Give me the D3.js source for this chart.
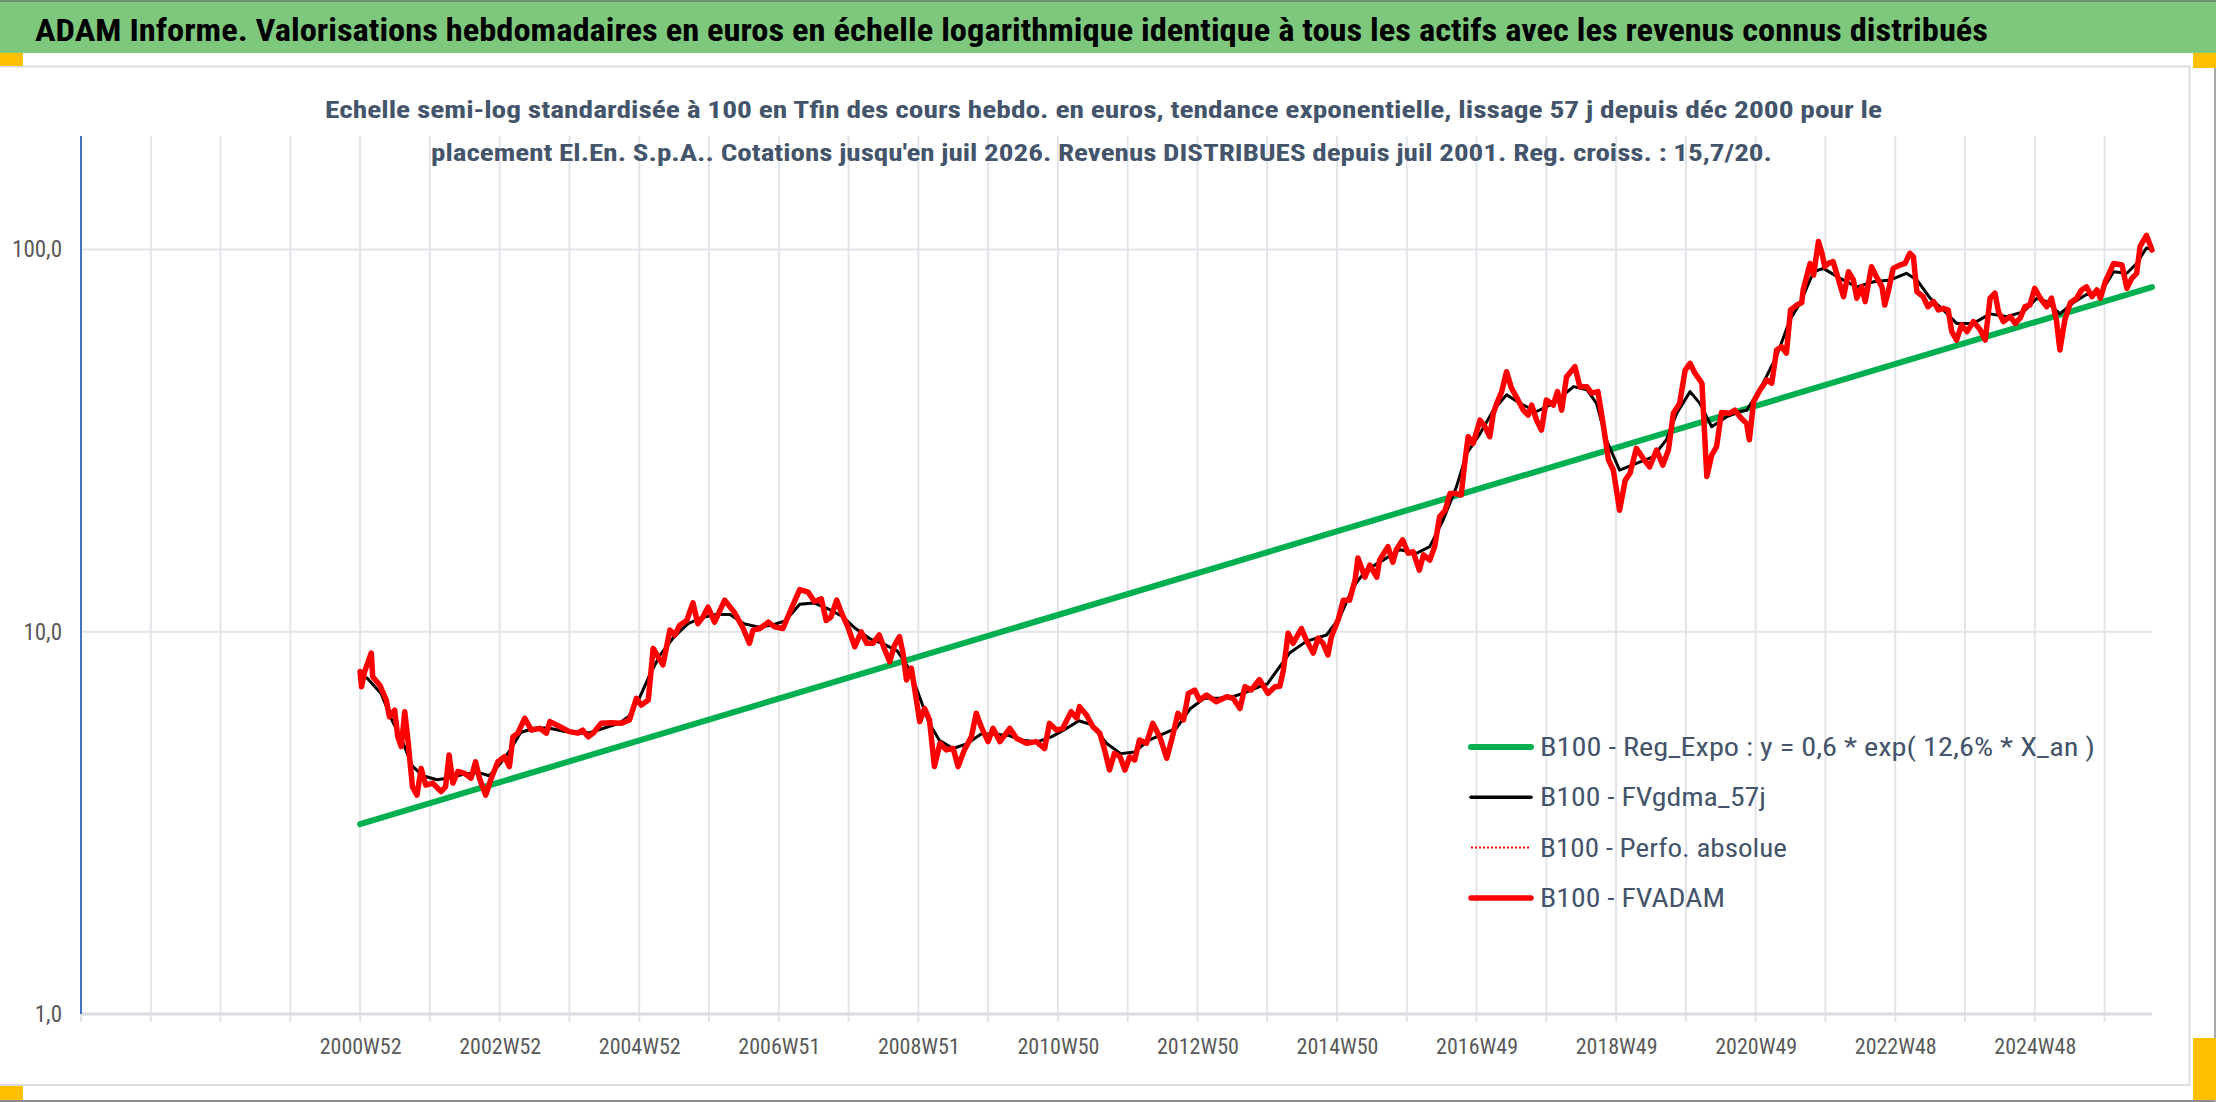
<!DOCTYPE html>
<html><head><meta charset="utf-8">
<script src="https://cdn.jsdelivr.net/npm/d3@7"></script>
<style>
html,body{margin:0;padding:0;background:#fff;overflow:hidden;}
svg{display:block;}
</style></head>
<body>
<svg id="chart" width="2216" height="1102"></svg>
<script>
// ---------- DATA ----------
const titleText = "ADAM Informe. Valorisations hebdomadaires en euros en échelle logarithmique identique à tous les actifs avec les revenus connus distribués";
const subtitle1 = "Echelle semi-log standardisée à 100 en Tfin des cours hebdo. en euros, tendance exponentielle, lissage 57 j depuis déc 2000 pour le";
const subtitle2 = "placement El.En. S.p.A.. Cotations jusqu'en juil 2026. Revenus DISTRIBUES depuis juil 2001. Reg. croiss. : 15,7/20.";

// category axis: years (52-week steps) relative to 2000W52
const xLabelPos = [0, 2, 4, 6, 8, 10, 12, 14, 16, 18, 20, 22, 24];
const xLabels = ["2000W52", "2002W52", "2004W52", "2006W51", "2008W51", "2010W50", "2012W50",
                 "2014W50", "2016W49", "2018W49", "2020W49", "2022W48", "2024W48"];
const xGrid = [-3,-2,-1,0,1,2,3,4,5,6,7,8,9,10,11,12,13,14,15,16,17,18,19,20,21,22,23,24,25];
const yTicks = [1, 10, 100];

const seriesNames = [
  "B100 - Reg_Expo : y = 0,6 * exp( 12,6% *  X_an )",
  "B100 - FVgdma_57j",
  "B100 - Perfo. absolue",
  "B100 - FVADAM"
];

// B100 - FVADAM (red)
const redT = [0.00,0.02,0.065,0.16,0.18,0.28,0.375,0.42,0.495,0.54,0.59,0.64,0.685,0.75,0.815,0.875,0.94,1.04,1.16,1.225,1.275,1.33,1.40,1.50,1.59,1.655,1.71,1.80,1.88,1.975,
  2.07,2.14,2.19,2.26,2.36,2.455,2.575,2.67,2.72,2.86,3.00,3.12,3.19,3.27,3.34,3.455,3.60,3.74,3.86,3.96,4.03,4.13,4.20,4.27,4.34,4.44,4.51,4.58,4.68,4.77,
  4.84,4.915,4.985,5.08,5.225,5.37,5.49,5.58,5.63,5.73,5.85,5.94,6.06,6.18,6.30,6.42,6.51,6.61,6.68,6.75,6.83,6.90,6.99,7.09,7.18,7.26,7.35,7.44,7.52,7.59,
  7.66,7.73,7.78,7.83,7.90,7.95,8.02,8.09,8.16,8.23,8.31,8.40,8.50,8.57,8.66,8.76,8.83,8.90,9.00,9.07,9.17,9.31,9.41,9.55,9.69,9.81,9.88,9.98,10.07,10.19,
  10.27,10.31,10.41,10.50,10.60,10.67,10.74,10.81,10.89,10.96,11.03,11.10,11.17,11.27,11.36,11.46,11.56,11.63,11.72,11.80,11.87,11.96,12.03,12.13,12.27,12.42,12.51,12.61,12.68,12.77,
  12.89,13.01,13.11,13.18,13.23,13.30,13.37,13.49,13.56,13.66,13.73,13.80,13.87,13.92,14.02,14.09,14.18,14.26,14.30,14.40,14.47,14.57,14.61,14.73,14.80,14.85,14.94,15.02,15.09,15.18,
  15.24,15.33,15.40,15.47,15.55,15.62,15.71,15.78,15.83,15.88,15.95,16.05,16.12,16.19,16.24,16.29,16.36,16.43,16.50,16.57,16.67,16.74,16.79,16.86,16.93,17.00,17.10,17.16,17.22,17.29,
  17.41,17.48,17.58,17.65,17.74,17.82,17.89,17.96,18.05,18.13,18.20,18.29,18.39,18.48,18.58,18.67,18.75,18.82,18.91,18.99,19.06,19.13,19.23,19.30,19.37,19.44,19.51,19.63,19.70,19.80,
  19.87,19.91,19.97,20.06,20.16,20.23,20.30,20.37,20.44,20.50,20.59,20.66,20.68,20.78,20.83,20.90,20.95,20.99,21.04,21.11,21.16,21.26,21.33,21.40,21.45,21.52,21.57,21.66,21.73,21.81,
  21.85,21.90,21.97,22.07,22.14,22.21,22.26,22.31,22.40,22.47,22.55,22.62,22.69,22.76,22.81,22.88,22.95,23.03,23.12,23.22,23.29,23.36,23.43,23.48,23.55,23.65,23.72,23.79,23.86,23.93,
  24.00,24.08,24.17,24.24,24.31,24.36,24.43,24.51,24.60,24.67,24.74,24.82,24.89,24.94,25.01,25.13,25.25,25.32,25.39,25.46,25.51,25.60,25.68];
const redV = [7.87,7.18,7.87,8.80,7.63,7.26,6.63,5.99,6.24,5.31,5.01,6.18,5.21,3.93,3.74,4.39,3.97,4.02,3.82,3.93,4.76,4.02,4.31,4.26,4.14,4.57,4.14,3.74,4.14,4.57,
  4.71,4.44,5.31,5.43,5.94,5.53,5.59,5.43,5.82,5.65,5.48,5.43,5.53,5.31,5.43,5.76,5.78,5.76,5.88,6.70,6.43,6.63,9.05,8.61,8.19,10.1,9.81,10.4,10.7,11.9,
  10.5,10.95,11.6,10.6,12.1,11.2,10.2,9.33,10.1,10.2,10.6,10.3,10.2,11.5,12.9,12.7,12.0,12.2,10.7,10.95,12.1,11.2,10.3,9.14,10.0,9.33,9.33,9.81,8.96,8.35,
  9.23,9.71,8.80,7.48,8.03,7.04,5.82,6.30,5.88,4.44,5.11,4.91,4.95,4.44,4.91,5.31,6.12,5.65,5.16,5.59,5.16,5.59,5.26,5.11,5.16,4.95,5.76,5.53,5.59,6.18,
  5.94,6.37,6.06,5.65,5.43,4.91,4.35,4.81,4.71,4.35,4.71,4.62,5.21,5.11,5.76,5.31,4.67,5.21,6.12,5.88,6.90,7.04,6.63,6.83,6.56,6.76,6.70,6.30,7.18,7.04,
  7.50,6.90,7.18,7.20,7.90,9.91,9.33,10.2,9.52,8.80,9.63,9.33,8.70,9.71,10.8,12.1,12.1,13.7,15.6,13.9,14.95,13.9,15.4,16.7,15.2,16.4,17.4,16.05,16.2,14.5,
  15.9,15.4,16.7,20.0,20.8,23.0,23.0,22.8,27.6,32.4,31.1,35.8,34.4,32.4,37.3,39.6,42.5,47.9,43.4,41.2,38.0,36.9,39.2,35.8,33.7,40.4,39.2,42.5,38.0,46.5,
  49.4,43.8,43.8,42.1,42.5,34.4,28.2,26.5,20.8,24.9,26.0,30.2,28.4,27.0,29.9,27.3,29.9,37.3,39.6,48.4,50.4,47.5,44.7,25.5,29.0,30.5,37.5,37.3,38.0,36.1,
  35.1,31.8,40.0,42.9,45.6,44.7,54.6,55.7,53.6,69.5,71.6,72.6,78.4,92.0,85.8,105,97.8,90.2,92.0,93.0,86.7,75.3,87.5,83.3,74.6,79.9,73.1,90.2,85.0,79.9,
  71.6,77.6,89.3,91.1,92.0,97.8,95.8,77.6,75.3,70.9,73.1,69.5,70.2,69.5,61.0,58.0,63.5,61.0,64.8,61.6,58.0,74.6,76.9,68.8,64.8,66.8,64.1,66.2,70.9,71.6,
  79.2,74.6,70.9,74.6,65.4,54.6,65.4,72.6,74.6,78.4,79.9,75.3,78.4,74.6,82.4,92.0,91.1,79.2,84.1,86.7,102,109,99.8];

// B100 - FVgdma_57j (black, smoothed)
const blackT = [0.09,0.3,0.45,0.6,0.75,0.9,1.1,1.3,1.5,1.7,1.85,2.0,2.15,2.3,2.5,2.7,2.9,3.1,3.3,3.5,3.7,3.85,4.0,4.15,4.3,4.5,4.7,4.9,5.1,5.3,
  5.5,5.7,5.9,6.1,6.3,6.5,6.7,6.9,7.1,7.3,7.5,7.7,7.85,8.0,8.15,8.3,8.5,8.7,8.9,9.1,9.3,9.5,9.7,9.9,10.1,10.3,10.5,10.7,10.9,11.1,
  11.3,11.5,11.7,11.9,12.1,12.3,12.5,12.7,12.9,13.0,13.32,13.56,13.85,14.04,14.23,14.42,14.66,14.9,15.14,15.33,15.52,15.71,15.86,16.05,16.24,16.43,16.62,16.86,17.1,17.39,
  17.58,17.72,17.86,18.05,18.29,18.53,18.72,18.87,19.06,19.2,19.37,19.58,19.77,19.87,20.06,20.3,20.49,20.64,20.83,20.97,21.21,21.45,21.69,21.93,22.16,22.31,22.5,22.69,22.88,23.12,
  23.36,23.6,23.84,24.03,24.17,24.36,24.55,24.74,24.94,25.13,25.32,25.46,25.6,25.68];
const blackV = [7.6,6.9,5.9,5.2,4.45,4.2,4.1,4.15,4.25,4.28,4.2,4.5,4.9,5.45,5.6,5.6,5.5,5.42,5.45,5.6,5.75,6.0,6.7,7.7,8.7,9.7,10.5,10.9,11.1,11.1,
  10.5,10.3,10.4,10.7,11.8,11.9,11.5,11.0,10.2,9.6,9.3,8.9,8.1,6.9,5.8,5.2,4.95,5.1,5.4,5.4,5.35,5.2,5.15,5.3,5.55,5.85,5.7,5.1,4.8,4.85,
  5.2,5.4,5.6,6.3,6.7,6.7,6.75,6.95,7.2,7.3,8.8,9.44,9.81,10.9,13.1,14.5,15.4,16.4,16.05,16.7,19.6,23.9,29.3,33.0,38.0,41.7,39.6,37.7,39.6,43.8,
  43.0,39.6,31.8,26.5,27.6,28.7,31.8,37.3,42.5,39.6,34.4,36.5,37.7,38.0,43.0,52.6,65.4,72.6,87.5,89.3,84.1,79.9,82.4,83.3,86.7,83.3,74.6,69.5,64.1,64.1,
  67.9,66.8,68.8,74.6,73.1,67.9,72.6,76.3,76.9,87.5,86.7,92.0,101,100];

// B100 - Reg_Expo (green trend, endpoints)
const greenT = [0, 25.68];
const greenV = [3.14, 79.8];

// ---------- DRAWING ----------
const FONT = "'Liberation Sans Narrow','Roboto Condensed','Open Sans Condensed','Roboto',sans-serif";
const svg = d3.select("#chart");

// title band
svg.append("rect").attr("x",0).attr("y",0).attr("width",2216).attr("height",53).attr("fill","#7DC87D");
svg.append("rect").attr("x",0).attr("y",0).attr("width",2216).attr("height",2).attr("fill","#6E8E6E");
svg.append("text").attr("x",35).attr("y",41).attr("font-family",FONT).attr("font-weight","bold")
  .attr("font-size",31).attr("fill","#000").attr("textLength",1953).attr("lengthAdjust","spacingAndGlyphs").text(titleText);

// chart area frame
svg.append("line").attr("x1",0).attr("x2",2190).attr("y1",66.5).attr("y2",66.5).attr("stroke","#DADDE2").attr("stroke-width",2);
svg.append("line").attr("x1",0).attr("x2",2190).attr("y1",1085).attr("y2",1085).attr("stroke","#DADDE2").attr("stroke-width",2);
svg.append("line").attr("x1",2189.5).attr("x2",2189.5).attr("y1",66).attr("y2",1086).attr("stroke","#DADDE2").attr("stroke-width",2);
svg.append("line").attr("x1",0).attr("x2",2216).attr("y1",1101).attr("y2",1101).attr("stroke","#8C8C8C").attr("stroke-width",2);
svg.append("line").attr("x1",2215).attr("x2",2215).attr("y1",53).attr("y2",1102).attr("stroke","#A6A6A6").attr("stroke-width",2);
// handles
[[0,53,23,13],[0,1086,23,14],[2193,53,23,15],[2193,1038,23,62]].forEach(r=>{
  svg.append("rect").attr("x",r[0]).attr("y",r[1]).attr("width",r[2]).attr("height",r[3]).attr("fill","#FFC000");
});

// scales
const plotTop = 136, plotLeft = 81, plotRight = 2152;
const x = d3.scaleLinear().domain([-4, 25.68]).range([plotLeft, plotRight]);
const y = d3.scaleLog().domain([1, 100]).range([1014, 249.6]);

const grid = svg.append("g");
// vertical gridlines
grid.selectAll("line.v").data(xGrid).enter().append("line")
  .attr("x1", d=>x(d)).attr("x2", d=>x(d)).attr("y1", plotTop).attr("y2", y(1)+8)
  .attr("stroke","#E1E4E9").attr("stroke-width",2);
// horizontal gridlines
grid.selectAll("line.h").data(yTicks).enter().append("line")
  .attr("x1", plotLeft).attr("x2", plotRight).attr("y1", d=>y(d)).attr("y2", d=>y(d))
  .attr("stroke", d=> d===1 ? "#D9DCE1" : "#E1E4E9").attr("stroke-width", d=> d===1 ? 3 : 2);
grid.append("line").attr("x1",plotLeft).attr("x2",plotLeft).attr("y1",y(1)).attr("y2",y(1)+8).attr("stroke","#E1E4E9").attr("stroke-width",2);

// subtitle (drawn over gridlines like the original)
svg.append("text").attr("x",325).attr("y",118).attr("font-family",FONT).attr("font-weight","bold")
  .attr("font-size",23).attr("fill","#44546A").attr("textLength",1557).attr("lengthAdjust","spacingAndGlyphs").text(subtitle1);
svg.append("text").attr("x",431).attr("y",161).attr("font-family",FONT).attr("font-weight","bold")
  .attr("font-size",23).attr("fill","#44546A").attr("textLength",1341).attr("lengthAdjust","spacingAndGlyphs").text(subtitle2);

// y axis
const yAxis = d3.axisLeft(y).tickValues(yTicks).tickSize(0).tickPadding(19)
  .tickFormat(d => d3.format(".1f")(d).replace(".", ","));
const gy = svg.append("g").attr("transform",`translate(${plotLeft},0)`).call(yAxis);
gy.select(".domain").remove();
gy.selectAll("text").attr("font-family",FONT).attr("font-size",23).attr("fill","#595959");
svg.append("line").attr("x1",plotLeft).attr("x2",plotLeft).attr("y1",plotTop).attr("y2",y(1))
  .attr("stroke","#4472C4").attr("stroke-width",2);

// x axis
const xAxis = d3.axisBottom(x).tickValues(xLabelPos).tickSize(0).tickPadding(24)
  .tickFormat((d,i) => xLabels[i]);
const gx = svg.append("g").attr("transform",`translate(0,${y(1)})`).call(xAxis);
gx.select(".domain").remove();
gx.selectAll("text").attr("font-family",FONT).attr("font-size",22).attr("fill","#595959");

// series
const line = d3.line().x(d=>x(d[0])).y(d=>y(d[1]));
const green = greenT.map((t,i)=>[t, greenV[i]]);
const black = blackT.map((t,i)=>[t, blackV[i]]);
const red = redT.map((t,i)=>[t, redV[i]]);

svg.append("path").datum(green).attr("d",line).attr("fill","none").attr("stroke","#00B050").attr("stroke-width",6).attr("stroke-linecap","round");
svg.append("path").datum(black).attr("d",line).attr("fill","none").attr("stroke","#000").attr("stroke-width",3).attr("stroke-linejoin","round");
svg.append("path").datum(red).attr("d",line).attr("fill","none").attr("stroke","#FF0000").attr("stroke-width",5.5).attr("stroke-linejoin","round").attr("stroke-linecap","round");

// legend
const legendStyles = [
  {color:"#00B050", w:6, dash:null},
  {color:"#000000", w:3.5, dash:null},
  {color:"#FF0000", w:2, dash:"2,2"},
  {color:"#FF0000", w:5.5, dash:null}
];
const legendWidths = [555, 226, 247, 185];
const lg = svg.append("g");
seriesNames.forEach((name,i)=>{
  const cy = 747 + i*50.3;
  const s = legendStyles[i];
  lg.append("line").attr("x1",1471).attr("x2",1531).attr("y1",cy).attr("y2",cy)
    .attr("stroke",s.color).attr("stroke-width",s.w).attr("stroke-linecap", s.dash ? "butt" : "round")
    .attr("stroke-dasharray", s.dash);
  lg.append("text").attr("x",1540).attr("y",cy+9).attr("font-family",FONT).attr("font-size",25)
    .attr("fill","#44546A").attr("textLength",legendWidths[i]).attr("lengthAdjust","spacingAndGlyphs").text(name);
});
</script>
</body></html>
